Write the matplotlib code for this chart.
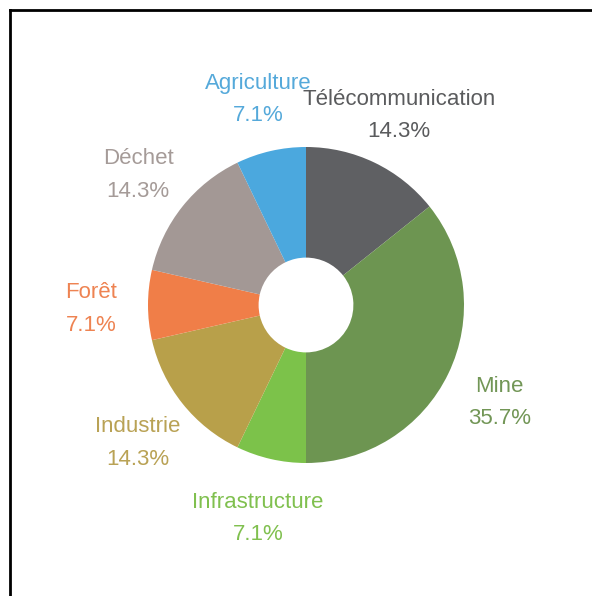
import numpy as np
import matplotlib.pyplot as plt
from matplotlib.lines import Line2D
from matplotlib.transforms import offset_copy

plt.rcParams['font.family'] = ['Liberation Sans', 'DejaVu Sans']

# secteurs, dans l'ordre horaire depuis le haut
secteurs = ["Télécommunication", "Mine", "Infrastructure", "Industrie", "Forêt", "Déchet", "Agriculture"]
valeurs = [2, 5, 1, 2, 1, 2, 1]
couleurs = ["#5f6063", "#6d9551", "#7cc24a", "#b8a04a", "#f07e48", "#a39895", "#4ba8de"]
couleurs_texte = ["#5a5b5d", "#729656", "#80c04f", "#b9a255", "#ee8352", "#a59b98", "#55a9da"]

W, H = 592, 596
fig = plt.figure(figsize=(W / 100, H / 100), dpi=100)
ax = fig.add_axes([0, 0, 1, 1])

total = sum(valeurs)
etiquettes = [f"{s}\n{v / total * 100:.1f}%" for s, v in zip(secteurs, valeurs)]

wedges, texts = ax.pie(valeurs, colors=couleurs, startangle=90, counterclock=False,
                       radius=1, wedgeprops=dict(width=0.70, linewidth=0),
                       labels=etiquettes, labeldistance=1.36,
                       textprops=dict(fontsize=16))
# léger décalage vers le bas des étiquettes
decal = offset_copy(ax.transData, fig=fig, x=0, y=-4, units="dots")
for t, c in zip(texts, couleurs_texte):
    t.set_color(c)
    t.set_ha("center")
    t.set_va("center")
    t.set_linespacing(1.7)
    t.set_transform(decal)

# centre du donut ~ (306, 305) px, rayon ~158 px
R = 158
cx, cy = 306, H - 305
ax.set_xlim(-cx / R, (W - cx) / R)
ax.set_ylim(-cy / R, (H - cy) / R)
ax.set_aspect("equal")
ax.axis("off")

# cadre noir (seuls les bords gauche et haut sont visibles)
fig.add_artist(Line2D([10 / W, 10 / W], [0, 1 - 10 / H], color="black", lw=2, transform=fig.transFigure))
fig.add_artist(Line2D([10 / W, 1], [1 - 10 / H, 1 - 10 / H], color="black", lw=2, transform=fig.transFigure))

fig.savefig("out.png", dpi=100, facecolor="white")
